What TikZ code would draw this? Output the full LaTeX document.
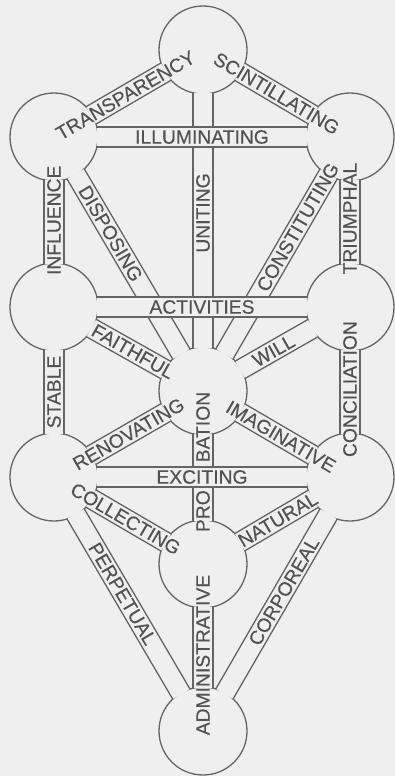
\documentclass[tikz,border=0pt]{standalone}
\usepackage{fontspec}
\setmainfont{Liberation Sans}
\newfontfamily\labfont{Liberation Sans}[FakeBold=0.25]
\usetikzlibrary{calc}
\definecolor{bgc}{RGB}{239,239,239}
\definecolor{lnc}{RGB}{100,100,100}
\definecolor{txc}{RGB}{82,82,82}
\newcommand\bandhw{10pt}
\newcommand\bandd{42.85pt}
\newcommand\pathband[2]{%
  \coordinate (nA) at ($(#1)!\bandhw!90:(#2)$);
  \coordinate (nB) at ($(#2)!\bandhw!-90:(#1)$);
  \coordinate (sA) at ($(#1)!\bandhw!-90:(#2)$);
  \coordinate (sB) at ($(#2)!\bandhw!90:(#1)$);
  \coordinate (n1) at ($(nA)!\bandd!(nB)$);
  \coordinate (n2) at ($(nB)!\bandd!(nA)$);
  \coordinate (s1) at ($(sA)!\bandd!(sB)$);
  \coordinate (s2) at ($(sB)!\bandd!(sA)$);
  \fill[bgc] (n1) -- (n2) -- (s2) -- (s1) -- cycle;
  \draw[ln] (n1) -- (n2) (s1) -- (s2);
}
\begin{document}
\begin{tikzpicture}[x=1pt,y=-1pt,
  circ/.style={circle, minimum size=88pt, inner sep=0pt, draw=lnc, line width=1.3pt, fill=bgc},
  ln/.style={draw=lnc, line width=1.3pt, line cap=round},
  lab/.style={text=txc, inner sep=0pt, font=\labfont\fontsize{19.3pt}{19.3pt}\selectfont}]
\fill[bgc] (0,0) rectangle (395,776);
\useasboundingbox (0,0) rectangle (395,776);
% sephirot
\node[circ] (K)  at (203,50)  {};
\node[circ] (B)  at (54,137)  {};
\node[circ] (Ch) at (350,137) {};
\node[circ] (G)  at (54,307)  {};
\node[circ] (Cs) at (350,307) {};
\node[circ] (T)  at (203,391) {};
\node[circ] (H)  at (54,477)  {};
\node[circ] (N)  at (350,477) {};
\node[circ] (Y)  at (203,564) {};
\node[circ] (M)  at (203,731) {};
% lower paths
\pathband{B}{K}
\pathband{K}{Ch}
\pathband{K}{T}
\pathband{Ch}{T}
\pathband{Ch}{Cs}
\pathband{B}{T}
\pathband{B}{G}
\pathband{G}{T}
\pathband{Cs}{T}
\pathband{Cs}{N}
\pathband{G}{H}
\pathband{H}{T}
\pathband{T}{N}
\pathband{T}{Y}
\pathband{Y}{N}
\pathband{H}{Y}
\pathband{H}{M}
\pathband{N}{M}
\pathband{Y}{M}
% crossing paths on top
\pathband{B}{Ch}
\pathband{G}{Cs}
\pathband{H}{N}
% labels
\path (B.center) -- node[lab,pos=.48,sloped]{TRANSPARENCY} (K.center);
\path (K.center) -- node[lab,pos=.50,sloped]{SCINTILLATING} (Ch.center);
\path (B.center) -- node[lab,pos=.5,sloped]{ILLUMINATING} (Ch.center);
\path (T.center) -- node[lab,pos=.522,sloped]{UNITING} (K.center);
\path (G.center) -- node[lab,pos=.51,sloped]{INFLUENCE} (B.center);
\path (Cs.center) -- node[lab,pos=.52,sloped]{TRIUMPHAL} (Ch.center);
\path (B.center) -- node[lab,pos=.38,sloped]{DISPOSING} (T.center);
\path (T.center) -- node[lab,pos=.645,sloped]{CONSTITUTING} (Ch.center);
\path (G.center) -- node[lab,pos=.5,sloped]{ACTIVITIES} (Cs.center);
\path (G.center) -- node[lab,pos=.53,sloped]{FAITHFUL} (T.center);
\path (T.center) -- node[lab,pos=.48,sloped]{WILL} (Cs.center);
\path (H.center) -- node[lab,pos=.5,sloped]{STABLE} (G.center);
\path (N.center) -- node[lab,pos=.517,sloped]{CONCILIATION} (Cs.center);
\path (H.center) -- node[lab,pos=.5,sloped]{RENOVATING} (T.center);
\path (T.center) -- node[lab,pos=.53,sloped]{IMAGINATIVE} (N.center);
\path (Y.center) -- node[lab,pos=.59,sloped]{PRO\hspace{28pt}BATION} (T.center);
\path (H.center) -- node[lab,pos=.5,sloped]{EXCITING} (N.center);
\path (Y.center) -- node[lab,pos=.51,sloped]{NATURAL} (N.center);
\path (H.center) -- node[lab,pos=.48,sloped]{COLLECTING} (Y.center);
\path (H.center) -- node[lab,pos=.46,sloped]{PERPETUAL} (M.center);
\path (M.center) -- node[lab,pos=.55,sloped]{CORPOREAL} (N.center);
\path (M.center) -- node[lab,pos=.455,sloped]{ADMINISTRATIVE} (Y.center);
\end{tikzpicture}
\end{document}
